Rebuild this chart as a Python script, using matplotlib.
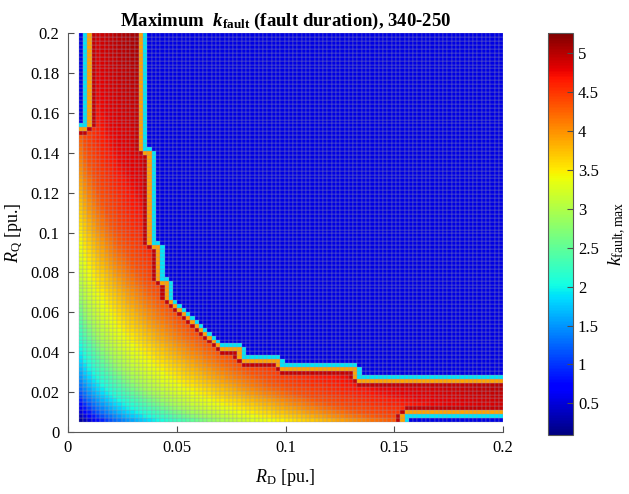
import numpy as np
import matplotlib
matplotlib.use("Agg")
import matplotlib.pyplot as plt

plt.rcParams['font.family'] = 'Liberation Serif'
plt.rcParams['mathtext.fontset'] = 'custom'
plt.rcParams['mathtext.rm'] = 'Liberation Serif'
plt.rcParams['mathtext.it'] = 'Liberation Serif:italic'
plt.rcParams['mathtext.bf'] = 'Liberation Serif:bold'
plt.rcParams['mathtext.bfit'] = 'Liberation Serif:italic:bold'

# sweep grid of the two resistances [pu.]
r_min, r_max, n_pts = 0.005, 0.2, 100

# k rise away from the origin, against u = sqrt(RD) + sqrt(RQ)
u_pts = [0.14, 0.17, 0.21, 0.27, 0.30, 0.33, 0.36, 0.41, 0.46, 0.52, 0.58, 0.64]
k_pts = [0.20, 0.55, 1.20, 2.00, 2.40, 2.90, 3.25, 3.75, 4.35, 4.75, 4.95, 5.15]

# upper RQ limit of the region where a fault is cleared, per RD step
rd_edge = [0.000, 0.0085, 0.0330, 0.0367, 0.0410,
           0.0450, 0.0470, 0.0490, 0.0510, 0.0530, 0.0550, 0.0570,
           0.0590, 0.0610, 0.0630, 0.0650, 0.0670, 0.0690,
           0.0780, 0.0970, 0.1320]
rq_top = [0.152, 0.200, 0.139, 0.093, 0.074,
          0.066, 0.064, 0.062, 0.060, 0.058, 0.056, 0.054,
          0.052, 0.050, 0.048, 0.046, 0.044, 0.041,
          0.036, 0.031, 0.025]

# low-RQ strip lost at large RD
strip_rd, strip_rq = 0.154, 0.008

# values outside the region and along its rim
k_out = 0.55
k_rim_out = 1.9
k_rim_in = 3.9
k_rim_in2 = 4.95

grid = np.linspace(r_min, r_max, n_pts)
RD, RQ = np.meshgrid(grid[:-1], grid[:-1])

k = np.interp(np.sqrt(RD) + np.sqrt(RQ), u_pts, k_pts)

top = np.array(rq_top)[np.searchsorted(rd_edge, RD, side='right') - 1]
inside = RQ < top
inside &= ~((RD >= strip_rd) & (RQ < strip_rq))


def grow(m):
    g = m.copy()
    g[1:, :] |= m[:-1, :]
    g[:-1, :] |= m[1:, :]
    g[:, 1:] |= m[:, :-1]
    g[:, :-1] |= m[:, 1:]
    return g


outside = ~inside
rim_out = grow(inside) & outside
rim_in = grow(outside) & inside
rim_in2 = grow(rim_in) & inside & ~rim_in

Z = k.copy()
Z[rim_in2] = np.maximum(Z[rim_in2], k_rim_in2)
Z[rim_in] = k_rim_in
Z[outside] = k_out
Z[rim_out] = k_rim_out

fig = plt.figure(figsize=(6.29, 4.94), dpi=100)
ax = fig.add_axes([0.108, 0.1255, 0.692, 0.8075])
mesh = ax.pcolormesh(grid, grid, Z, cmap='jet', vmin=0.09, vmax=5.26,
                     edgecolors=(0.6, 0.6, 0.68, 0.6), linewidth=0.35,
                     antialiased=True)

ax.set_xlim(0, 0.2)
ax.set_ylim(0, 0.2)
xt = [0, 0.05, 0.1, 0.15, 0.2]
yt = np.round(np.arange(0, 0.201, 0.02), 2)
ax.set_xticks(xt)
ax.set_xticklabels(['0', '0.05', '0.1', '0.15', '0.2'])
ax.set_yticks(yt)
ax.set_yticklabels(['0'] + ['%g' % v for v in yt[1:]])
ax.tick_params(direction='in', length=4, labelsize=12, color='0.3', pad=6)
for s in ['top', 'right']:
    ax.spines[s].set_visible(False)
for s in ['left', 'bottom']:
    ax.spines[s].set_color('0.35')
    ax.spines[s].set_linewidth(0.8)

ax.set_xlabel(r'$R_{\mathrm{D}}$ [pu.]', fontsize=13, labelpad=8)
ax.set_ylabel(r'$R_{\mathrm{Q}}$ [pu.]', fontsize=13, labelpad=4)
ax.set_title(r'Maximum  $\mathbfit{k}_{\mathbf{fault}}$ (fault duration), 340-250',
             fontsize=13.5, fontweight='bold', pad=5)

cax = fig.add_axes([0.871, 0.119, 0.040, 0.814])
cb = fig.colorbar(mesh, cax=cax)
cb.set_ticks([0.5, 1, 1.5, 2, 2.5, 3, 3.5, 4, 4.5, 5])
cb.set_ticklabels(['0.5', '1', '1.5', '2', '2.5', '3', '3.5', '4', '4.5', '5'])
cb.ax.tick_params(direction='in', length=4, labelsize=12, color='0.3')
cb.outline.set_linewidth(0.8)
cb.outline.set_edgecolor('0.35')
cb.set_label(r'$k_{\mathrm{fault,max}}$', fontsize=14, labelpad=6)

fig.savefig('out.png', dpi=100)
